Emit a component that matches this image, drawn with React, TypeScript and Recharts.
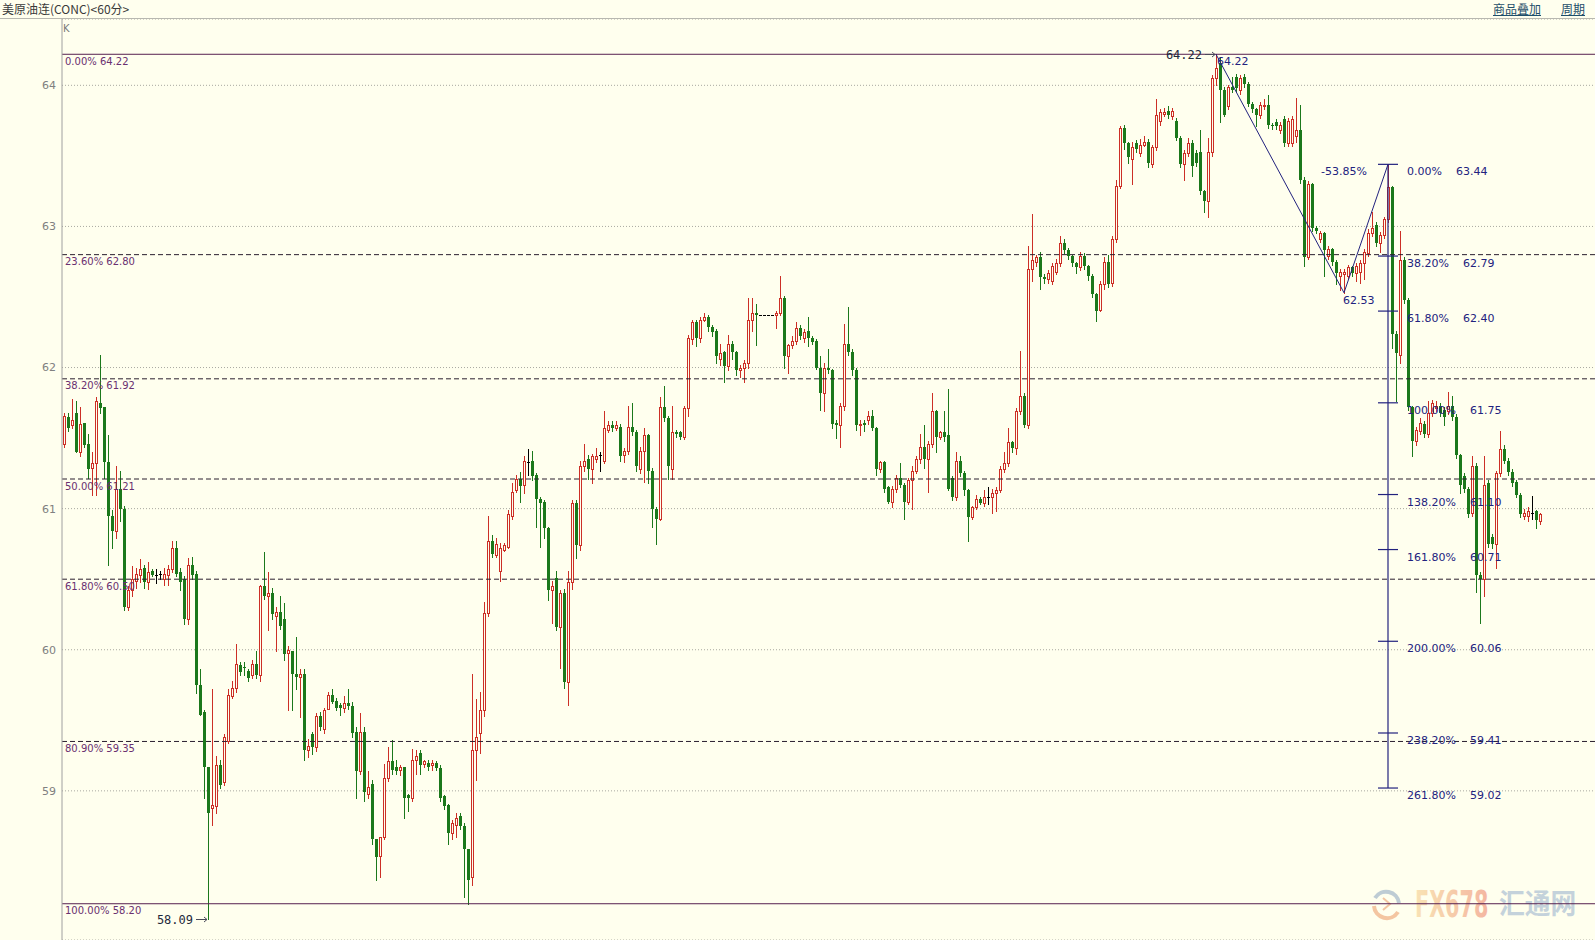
import React from 'react';
import { ComposedChart, Bar, XAxis, YAxis, CartesianGrid, ReferenceLine, ReferenceDot } from 'recharts';

// ---------- data (hourly candles) ----------
const opens = [
  61.46, 61.65, 61.59, 61.68, 61.40, 61.61, 61.46, 61.29, 61.32, 61.75,
  61.72, 61.33, 60.95, 60.84, 61.14, 61.00, 60.30, 60.42, 60.49, 60.53,
  60.58, 60.48, 60.56, 60.53, 60.54, 60.50, 60.53, 60.57, 60.72, 60.55,
  60.50, 60.22, 60.60, 60.54, 59.75, 59.56, 59.17, 58.88, 58.89, 59.18,
  59.06, 59.35, 59.67, 59.73, 59.89, 59.88, 59.85, 59.82, 59.90, 59.82,
  60.45, 60.38, 60.40, 60.24, 60.27, 60.22, 59.98, 59.99, 59.83, 59.81,
  59.83, 59.29, 59.40, 59.31, 59.53, 59.44, 59.58, 59.68, 59.64, 59.61,
  59.59, 59.62, 59.60, 59.42, 59.14, 59.42, 58.98, 59.05, 58.66, 58.54,
  58.67, 59.09, 59.21, 59.17, 59.15, 59.17, 58.97, 58.95, 59.22, 59.27,
  59.19, 59.20, 59.18, 59.20, 59.16, 58.96, 58.90, 58.70, 58.76, 58.82,
  58.75, 58.59, 58.39, 59.29, 59.41, 59.57, 60.26, 60.77, 60.67, 60.56,
  60.71, 60.73, 60.95, 61.13, 61.21, 61.17, 61.33, 61.34, 61.24, 61.07,
  61.05, 60.86, 60.42, 60.51, 60.16, 60.40, 59.77, 60.48, 61.04, 60.74,
  61.30, 61.35, 61.28, 61.35, 61.38, 61.34, 61.56, 61.59, 61.57, 61.58,
  61.38, 61.41, 61.58, 61.54, 61.28, 61.41, 61.52, 61.27, 61.00, 60.93,
  61.72, 61.64, 61.28, 61.54, 61.54, 61.51, 61.71, 62.20, 62.32, 62.21,
  62.34, 62.36, 62.29, 62.26, 62.06, 62.11, 62.01, 62.17, 62.11, 61.98,
  62.00, 62.03, 62.34, 62.39, 62.37, 62.37, 62.37, 62.37, 62.37, 62.39,
  62.49, 62.08, 62.16, 62.19, 62.28, 62.21, 62.26, 62.21, 62.19, 62.00,
  61.82, 62.00, 61.98, 61.61, 61.59, 61.73, 62.17, 62.11, 61.98, 61.59,
  61.61, 61.63, 61.66, 61.57, 61.28, 61.33, 61.15, 61.05, 61.14, 61.22,
  61.17, 61.05, 61.20, 61.27, 61.35, 61.44, 61.35, 61.46, 61.69, 61.51,
  61.54, 61.52, 61.22, 61.08, 61.34, 61.25, 61.13, 60.94, 61.01, 61.07,
  61.04, 61.08, 61.08, 61.11, 61.13, 61.28, 61.32, 61.47, 61.43, 61.69,
  61.80, 61.59, 62.70, 62.75, 62.78, 62.64, 62.63, 62.61, 62.68, 62.74,
  62.88, 62.83, 62.79, 62.74, 62.71, 62.79, 62.72, 62.65, 62.52, 62.41,
  62.59, 62.75, 62.60, 62.91, 63.29, 63.70, 63.59, 63.48, 63.59, 63.52,
  63.58, 63.60, 63.44, 63.56, 63.75, 63.80, 63.82, 63.78, 63.75, 63.63,
  63.44, 63.52, 63.59, 63.52, 63.53, 63.25, 63.18, 63.53, 64.05, 64.16,
  63.97, 63.85, 63.99, 64.06, 63.97, 64.06, 64.01, 63.87, 63.83, 63.79,
  63.85, 63.86, 63.72, 63.74, 63.68, 63.76, 63.59, 63.59, 63.64, 63.68,
  63.33, 62.78, 63.30, 62.99, 62.91, 62.95, 62.79, 62.84, 62.75, 62.65,
  62.66, 62.65, 62.71, 62.67, 62.68, 62.74, 62.81, 62.95, 63.01, 62.88,
  62.94, 63.05, 63.28, 62.24, 62.09, 62.76, 62.48, 61.72, 61.48, 61.55,
  61.60, 61.53, 61.68, 61.71, 61.73, 61.70, 61.69, 61.73, 61.65, 61.38,
  61.23, 61.14, 60.97, 61.30, 60.53, 60.50, 61.18, 60.80, 60.75, 61.25,
  61.42, 61.34, 61.26, 61.19, 61.10, 60.95, 60.95, 60.97, 60.98, 60.91,
];
const highs = [
  61.68, 61.68, 61.78, 61.76, 61.72, 61.61, 61.53, 61.40, 61.79, 62.09,
  61.72, 61.52, 60.99, 61.30, 61.27, 61.02, 60.45, 60.59, 60.58, 60.64,
  60.60, 60.62, 60.57, 60.57, 60.56, 60.58, 60.60, 60.77, 60.77, 60.58,
  60.52, 60.65, 60.66, 60.56, 59.86, 59.57, 59.17, 59.72, 59.25, 59.22,
  59.40, 59.72, 59.78, 60.04, 59.91, 59.91, 59.86, 59.93, 59.99, 60.46,
  60.69, 60.55, 60.44, 60.30, 60.38, 60.33, 60.03, 59.99, 60.09, 59.86,
  59.86, 59.37, 59.42, 59.55, 59.56, 59.59, 59.70, 59.72, 59.66, 59.62,
  59.67, 59.72, 59.63, 59.45, 59.55, 59.45, 59.14, 59.08, 58.66, 58.67,
  59.19, 59.31, 59.36, 59.22, 59.18, 59.17, 58.98, 59.30, 59.29, 59.29,
  59.22, 59.22, 59.22, 59.21, 59.18, 58.97, 58.91, 58.79, 58.84, 58.84,
  58.77, 58.59, 59.83, 59.65, 59.70, 60.34, 60.95, 60.81, 60.79, 60.76,
  60.76, 60.99, 61.18, 61.24, 61.26, 61.37, 61.42, 61.41, 61.25, 61.08,
  61.06, 60.87, 60.49, 60.56, 60.42, 60.43, 60.56, 61.06, 61.06, 61.34,
  61.46, 61.38, 61.39, 61.43, 61.40, 61.69, 61.62, 61.62, 61.62, 61.60,
  61.43, 61.73, 61.75, 61.56, 61.44, 61.57, 61.53, 61.29, 61.01, 61.79,
  61.87, 61.66, 61.73, 61.56, 61.55, 61.73, 62.23, 62.34, 62.34, 62.36,
  62.39, 62.37, 62.30, 62.27, 62.17, 62.12, 62.23, 62.19, 62.12, 62.02,
  62.05, 62.49, 62.49, 62.45, 62.37, 62.37, 62.37, 62.37, 62.40, 62.65,
  62.51, 62.17, 62.22, 62.32, 62.30, 62.27, 62.36, 62.22, 62.20, 62.08,
  62.03, 62.13, 61.99, 61.63, 61.75, 62.31, 62.43, 62.13, 62.00, 61.63,
  61.63, 61.69, 61.70, 61.58, 61.34, 61.34, 61.16, 61.16, 61.24, 61.32,
  61.18, 61.22, 61.30, 61.37, 61.53, 61.59, 61.48, 61.82, 61.70, 61.55,
  61.69, 61.85, 61.23, 61.40, 61.37, 61.27, 61.14, 61.02, 61.10, 61.08,
  61.13, 61.15, 61.14, 61.15, 61.30, 61.40, 61.57, 61.48, 61.71, 62.12,
  61.82, 62.86, 63.09, 62.80, 62.82, 62.66, 62.69, 62.74, 62.77, 62.93,
  62.91, 62.85, 62.80, 62.75, 62.82, 62.81, 62.73, 62.66, 62.53, 62.61,
  62.78, 62.80, 62.93, 63.33, 63.71, 63.72, 63.60, 63.60, 63.61, 63.62,
  63.64, 63.62, 63.58, 63.90, 63.83, 63.84, 63.85, 63.84, 63.77, 63.64,
  63.54, 63.63, 63.61, 63.54, 63.68, 63.26, 63.63, 64.07, 64.22, 64.20,
  63.99, 64.00, 64.06, 64.08, 64.07, 64.08, 64.02, 63.88, 63.84, 63.88,
  63.90, 63.93, 63.73, 63.76, 63.74, 63.78, 63.77, 63.78, 63.91, 63.86,
  63.35, 63.32, 63.31, 63.00, 62.97, 62.96, 62.86, 62.85, 62.76, 62.70,
  62.70, 62.73, 62.72, 62.74, 62.76, 62.84, 62.98, 63.10, 63.03, 62.96,
  63.07, 63.44, 63.29, 62.26, 62.97, 62.78, 62.49, 61.73, 61.58, 61.64,
  61.62, 61.76, 61.77, 61.76, 61.75, 61.72, 61.83, 61.80, 61.67, 61.39,
  61.25, 61.15, 61.37, 61.32, 60.55, 61.37, 61.20, 60.82, 61.27, 61.55,
  61.45, 61.36, 61.28, 61.20, 61.11, 61.00, 61.01, 61.09, 60.99, 60.97,
];
const lows = [
  61.44, 61.55, 61.57, 61.40, 61.37, 61.44, 61.22, 61.10, 61.10, 61.68,
  61.22, 60.60, 60.72, 60.79, 60.91, 60.28, 60.28, 60.38, 60.44, 60.48,
  60.44, 60.43, 60.52, 60.47, 60.50, 60.46, 60.46, 60.55, 60.52, 60.42,
  60.18, 60.18, 60.50, 59.69, 59.54, 58.95, 58.09, 58.76, 58.84, 59.02,
  59.04, 59.34, 59.66, 59.70, 59.82, 59.82, 59.78, 59.80, 59.80, 59.78,
  60.36, 60.14, 60.22, 59.99, 60.15, 59.93, 59.57, 59.57, 59.72, 59.52,
  59.22, 59.24, 59.26, 59.28, 59.43, 59.41, 59.58, 59.62, 59.57, 59.54,
  59.56, 59.58, 59.38, 58.95, 59.12, 58.93, 58.95, 58.62, 58.37, 58.39,
  58.66, 59.07, 59.12, 59.12, 59.11, 58.81, 58.86, 58.93, 59.12, 59.12,
  59.17, 59.15, 59.15, 59.15, 58.93, 58.87, 58.62, 58.66, 58.67, 58.73,
  58.25, 58.20, 58.33, 59.08, 59.27, 59.53, 60.24, 60.66, 60.66, 60.49,
  60.70, 60.72, 60.93, 61.12, 61.05, 61.11, 61.24, 61.20, 60.87, 60.73,
  60.79, 60.35, 60.19, 60.14, 59.87, 59.73, 59.61, 60.43, 60.65, 60.71,
  61.27, 61.21, 61.18, 61.33, 61.27, 61.32, 61.54, 61.55, 61.56, 61.34,
  61.33, 61.39, 61.52, 61.27, 61.25, 61.19, 61.18, 60.87, 60.75, 60.92,
  61.62, 61.21, 61.21, 61.51, 61.49, 61.49, 61.66, 62.17, 62.15, 62.18,
  62.33, 62.26, 62.22, 62.03, 62.02, 61.90, 61.98, 62.06, 61.95, 61.93,
  61.90, 62.00, 62.26, 62.16, 62.37, 62.37, 62.37, 62.37, 62.28, 62.37,
  62.00, 61.96, 62.14, 62.17, 62.20, 62.18, 62.15, 62.17, 61.99, 61.70,
  61.69, 61.96, 61.57, 61.50, 61.44, 61.70, 62.09, 61.95, 61.56, 61.52,
  61.55, 61.60, 61.56, 61.24, 61.26, 61.12, 61.04, 61.01, 61.12, 61.15,
  60.93, 61.03, 61.00, 61.25, 61.32, 61.29, 61.12, 61.44, 61.40, 61.49,
  61.48, 61.13, 61.06, 61.06, 61.23, 61.10, 60.77, 60.93, 61.00, 61.03,
  61.02, 61.03, 60.97, 60.98, 61.12, 61.26, 61.30, 61.40, 61.39, 61.67,
  61.58, 61.57, 62.61, 62.72, 62.56, 62.60, 62.60, 62.59, 62.66, 62.72,
  62.81, 62.77, 62.72, 62.67, 62.69, 62.70, 62.62, 62.50, 62.33, 62.40,
  62.56, 62.57, 62.58, 62.89, 63.27, 63.55, 63.45, 63.30, 63.53, 63.50,
  63.57, 63.42, 63.42, 63.54, 63.72, 63.78, 63.77, 63.76, 63.61, 63.42,
  63.33, 63.50, 63.36, 63.43, 63.23, 63.10, 63.07, 63.50, 64.00, 63.74,
  63.78, 63.83, 63.95, 63.96, 63.94, 63.99, 63.85, 63.81, 63.71, 63.77,
  63.83, 63.70, 63.69, 63.69, 63.66, 63.57, 63.57, 63.57, 63.60, 63.31,
  62.72, 62.77, 62.97, 62.95, 62.89, 62.65, 62.77, 62.73, 62.59, 62.55,
  62.53, 62.63, 62.65, 62.61, 62.60, 62.63, 62.79, 62.93, 62.86, 62.82,
  62.92, 63.03, 62.14, 61.76, 62.03, 62.46, 61.70, 61.37, 61.45, 61.53,
  61.51, 61.51, 61.66, 61.69, 61.66, 61.59, 61.67, 61.63, 61.36, 61.11,
  61.12, 60.94, 60.95, 60.41, 60.19, 60.38, 60.73, 60.72, 60.58, 61.23,
  61.32, 61.24, 61.16, 61.08, 60.94, 60.93, 60.91, 60.93, 60.86, 60.89,
];
const closes = [
  61.66, 61.57, 61.63, 61.40, 61.60, 61.45, 61.28, 61.32, 61.76, 61.71,
  61.33, 60.95, 60.84, 61.14, 61.00, 60.30, 60.42, 60.50, 60.54, 60.57,
  60.48, 60.55, 60.53, 60.53, 60.54, 60.54, 60.57, 60.72, 60.54, 60.48,
  60.22, 60.60, 60.53, 59.75, 59.54, 59.17, 58.84, 58.90, 59.18, 59.04,
  59.38, 59.68, 59.73, 59.90, 59.84, 59.87, 59.80, 59.90, 59.82, 60.45,
  60.38, 60.40, 60.25, 60.27, 60.17, 59.97, 60.00, 59.83, 59.81, 59.83,
  59.29, 59.32, 59.31, 59.53, 59.45, 59.57, 59.68, 59.63, 59.59, 59.59,
  59.62, 59.60, 59.41, 59.14, 59.42, 58.99, 59.03, 58.66, 58.53, 58.67,
  59.09, 59.21, 59.15, 59.14, 59.17, 58.95, 58.95, 59.22, 59.25, 59.18,
  59.21, 59.17, 59.20, 59.16, 58.95, 58.89, 58.70, 58.77, 58.81, 58.75,
  58.59, 58.37, 59.29, 59.38, 59.57, 60.26, 60.77, 60.68, 60.75, 60.72,
  60.74, 60.96, 61.12, 61.21, 61.16, 61.34, 61.33, 61.23, 61.07, 61.04,
  60.86, 60.42, 60.45, 60.16, 60.40, 59.77, 60.48, 61.04, 60.74, 61.30,
  61.34, 61.28, 61.37, 61.37, 61.38, 61.57, 61.59, 61.57, 61.59, 61.37,
  61.41, 61.58, 61.54, 61.30, 61.41, 61.52, 61.27, 61.00, 60.93, 61.72,
  61.64, 61.30, 61.54, 61.53, 61.51, 61.71, 62.21, 62.32, 62.21, 62.34,
  62.36, 62.29, 62.25, 62.08, 62.10, 62.01, 62.17, 62.11, 61.98, 62.00,
  62.03, 62.34, 62.39, 62.37, 62.37, 62.37, 62.37, 62.37, 62.39, 62.49,
  62.08, 62.16, 62.19, 62.28, 62.22, 62.25, 62.21, 62.18, 62.00, 61.82,
  62.00, 61.98, 61.60, 61.59, 61.73, 62.17, 62.11, 61.98, 61.59, 61.60,
  61.59, 61.66, 61.57, 61.28, 61.33, 61.14, 61.05, 61.14, 61.22, 61.17,
  61.05, 61.20, 61.27, 61.35, 61.44, 61.35, 61.46, 61.69, 61.51, 61.54,
  61.51, 61.14, 61.08, 61.34, 61.25, 61.13, 60.94, 61.01, 61.07, 61.04,
  61.08, 61.08, 61.11, 61.13, 61.28, 61.32, 61.47, 61.43, 61.69, 61.80,
  61.59, 62.70, 62.76, 62.78, 62.64, 62.63, 62.67, 62.72, 62.74, 62.88,
  62.83, 62.79, 62.74, 62.71, 62.79, 62.72, 62.65, 62.52, 62.40, 62.59,
  62.75, 62.59, 62.91, 63.29, 63.70, 63.59, 63.49, 63.56, 63.55, 63.58,
  63.60, 63.45, 63.56, 63.79, 63.81, 63.81, 63.79, 63.82, 63.63, 63.44,
  63.52, 63.59, 63.43, 63.45, 63.25, 63.18, 63.53, 64.05, 64.12, 63.97,
  63.79, 63.99, 63.97, 63.98, 64.05, 64.01, 63.87, 63.83, 63.79, 63.86,
  63.86, 63.72, 63.71, 63.71, 63.72, 63.59, 63.75, 63.76, 63.68, 63.33,
  62.78, 63.30, 62.99, 62.97, 62.95, 62.83, 62.84, 62.75, 62.67, 62.68,
  62.68, 62.71, 62.67, 62.72, 62.74, 62.82, 62.95, 62.99, 62.88, 62.94,
  63.05, 63.28, 62.24, 62.10, 62.76, 62.48, 61.72, 61.48, 61.56, 61.61,
  61.53, 61.68, 61.75, 61.73, 61.68, 61.65, 61.73, 61.65, 61.38, 61.17,
  61.14, 60.96, 61.30, 60.53, 60.50, 61.17, 60.75, 60.75, 61.25, 61.42,
  61.34, 61.26, 61.18, 61.10, 60.96, 60.97, 60.98, 60.97, 60.92, 60.96,
];

const yTicks = [59, 60, 61, 62, 63, 64];

// left Fibonacci retracement (64.22 -> 58.20)
const fibPct = ['0.00%', '23.60%', '38.20%', '50.00%', '61.80%', '80.90%', '100.00%'];
const fibValues = [64.22, 62.80, 61.92, 61.21, 60.50, 59.35, 58.20];
const fibSolid = [true, false, false, false, false, false, true];

// right Fibonacci extension tool
const extPct = ['0.00%', '38.20%', '61.80%', '100.00%', '138.20%', '161.80%', '200.00%', '238.20%', '261.80%'];
const extValues = [63.44, 62.79, 62.40, 61.75, 61.10, 60.71, 60.06, 59.41, 59.02];
const extIndex = 331;

// zig-zag swing points
const swingIdx = [288, 320, 331];
const swingPrice = [64.22, 62.53, 63.44];
const swingPctLabel = '-53.85%';

// extreme marks
const highMark = { idx: 288, price: 64.22 };
const lowMark = { idx: 36, price: 58.09 };

// ---------- styling ----------
const BG = '#FFFFEE';
const UP = '#CC2F26';
const DOWN = '#1B781B';
const NAVY = '#22227E';
const PURPLE_LINE = '#56204F';
const PURPLE_TXT = '#6A3070';
const DASH_LINE = '#2A1F2E';

const data = opens.map((o, i) => ({
  i,
  o,
  h: highs[i],
  l: lows[i],
  c: closes[i],
  range: [lows[i], highs[i]],
}));

function Candle(props: any) {
  const { x, y, width, height, payload } = props;
  if (!payload || x == null || y == null) return null;
  const { o, h, l, c } = payload;
  const cx = Math.round(x + width / 2);
  const span = h - l;
  const k = span > 0 ? height / span : 0;
  const py = (v: number) => y + (h - v) * k;
  const yH = Math.round(y);
  const yL = Math.round(y + height);
  const wx = cx + 0.5;
  if (o === c) {
    const yy = Math.round(py(o)) + 0.5;
    return (
      <g>
        {span > 0 && <line x1={wx} x2={wx} y1={yH} y2={yL + 1} stroke="#000" />}
        <line x1={cx - 1} x2={cx + 2} y1={yy} y2={yy} stroke="#000" />
      </g>
    );
  }
  if (c > o) {
    const top = Math.round(py(c));
    const bot = Math.round(py(o));
    return (
      <g>
        {top > yH && <line x1={wx} x2={wx} y1={yH} y2={top} stroke={UP} />}
        {yL > bot && <line x1={wx} x2={wx} y1={bot + 1} y2={yL + 1} stroke={UP} />}
        <rect x={cx - 0.5} y={top + 0.5} width={2} height={Math.max(bot - top, 1)} fill={BG} stroke={UP} />
      </g>
    );
  }
  const top = Math.round(py(o));
  const bot = Math.round(py(c));
  return (
    <g>
      <line x1={wx} x2={wx} y1={yH} y2={yL + 1} stroke={DOWN} />
      <rect x={cx - 1} y={top} width={3} height={Math.max(bot - top, 1)} fill={DOWN} />
    </g>
  );
}

function LeftFibLabel(props: any) {
  const { viewBox, txt } = props;
  if (!viewBox) return null;
  return (
    <text x={viewBox.x + 3} y={viewBox.y + 10.5} fill={PURPLE_TXT} fontSize={10} fontFamily="DejaVu Sans">
      {txt}
    </text>
  );
}

function ExtLabel(props: any) {
  const { viewBox, pct, val } = props;
  if (!viewBox) return null;
  const cx = viewBox.x + viewBox.width / 2;
  const cy = viewBox.y + viewBox.height / 2;
  return (
    <g fill={NAVY} fontSize={11} fontFamily="DejaVu Sans">
      <text x={cx + 19} y={cy + 11}>{pct}</text>
      <text x={cx + 33 + 7 * pct.length} y={cy + 11}>{val}</text>
    </g>
  );
}

function PointText(props: any) {
  const { viewBox, txt, tx = 0, ty = 0, anchor = 'start' } = props;
  if (!viewBox) return null;
  const cx = viewBox.x + viewBox.width / 2;
  const cy = viewBox.y + viewBox.height / 2;
  return (
    <text x={cx + tx} y={cy + ty} textAnchor={anchor} fill={NAVY} fontSize={11} fontFamily="DejaVu Sans">
      {txt}
    </text>
  );
}

function ArrowLabel(props: any) {
  const { viewBox, txt, gap } = props;
  if (!viewBox) return null;
  const cx = viewBox.x + viewBox.width / 2;
  const cy = Math.round(viewBox.y + viewBox.height / 2) + 0.5;
  return (
    <g>
      <text x={cx - gap} y={cy + 4.5} textAnchor="end" fill="#1E2A3C" fontSize={12} fontFamily="DejaVu Sans Mono">
        {txt}
      </text>
      <line x1={cx - gap + 3} x2={cx - 1} y1={cy} y2={cy} stroke="#4A4A5A" />
      <path d={`M${cx - 4},${cy - 2.5} L${cx - 1},${cy} L${cx - 4},${cy + 2.5}`} fill="none" stroke="#4A4A5A" />
    </g>
  );
}

export default function App() {
  const zig = swingIdx.slice(0, -1).map((s, k) => [
    { x: s, y: swingPrice[k] },
    { x: swingIdx[k + 1], y: swingPrice[k + 1] },
  ]);
  return (
    <div style={{ position: 'relative', width: 1595, height: 940, background: BG, overflow: 'hidden' }}>
      <style>{'body{margin:0;padding:0;background:' + BG + ';}'}</style>

      {/* watermark (beneath the chart) */}
      <svg width={1595} height={940} style={{ position: 'absolute', left: 0, top: 0 }}>
        <defs>
          <linearGradient id="wmg" x1="0" x2="1" y1="0" y2="0">
            <stop offset="0" stopColor="#F8DCA6" />
            <stop offset="1" stopColor="#F2A58E" />
          </linearGradient>
        </defs>
        <g opacity={0.8}>
          <path d="M1374,906 A13,13 0 0 0 1398,912" fill="none" stroke="#F2B98F" strokeWidth={4} />
          <path d="M1375,898 A13,13 0 0 1 1399,903" fill="none" stroke="#AFC0CE" strokeWidth={4} />
          <path d="M1383,898 L1390,904 L1383,910" fill="none" stroke="#F2B98F" strokeWidth={2} />
          <g transform="translate(1415,917) scale(0.56,1)">
            <text x={0} y={0} fontSize={37} fontWeight="bold" fontFamily="DejaVu Sans" fill="url(#wmg)">
              FX678
            </text>
          </g>
          <g transform="translate(1499,914) scale(0.92,1)">
            <text x={0} y={0} fontSize={28} fontWeight="bold" fontFamily="Noto Sans CJK SC" fill="#B6C8D7">
              汇通网
            </text>
          </g>
        </g>
      </svg>

      {/* header */}
      <svg width={1595} height={40} style={{ position: 'absolute', left: 0, top: 0 }}>
        <text x={2} y={14} fontSize={12} fontFamily="Noto Sans CJK SC" fill="#3A3A3A">
          美原油连(CONC)&lt;60分&gt;
        </text>
        <text x={1493} y={14} fontSize={12} fontFamily="Noto Sans CJK SC" fill="#1E4E6A">商品叠加</text>
        <line x1={1493} x2={1541} y1={15.5} y2={15.5} stroke="#1E4E6A" />
        <text x={1561} y={14} fontSize={12} fontFamily="Noto Sans CJK SC" fill="#1E4E6A">周期</text>
        <line x1={1561} x2={1585} y1={15.5} y2={15.5} stroke="#1E4E6A" />
        <line x1={0} x2={1595} y1={18.5} y2={18.5} stroke="#B8B8B0" />
        <text x={63} y={32} fontSize={10} fontFamily="DejaVu Sans" fill="#7A7A7A">K</text>
      </svg>

      <div style={{ position: 'absolute', left: 0, top: 19 }}>
        <ComposedChart width={1595} height={921} data={data} margin={{ top: 0, right: 0, bottom: 0, left: 0 }}>
          <CartesianGrid vertical={false} stroke="#A9A9A0" strokeDasharray="1 2" />
          <XAxis type="number" dataKey="i" domain={[-0.5, 382.75]} hide allowDataOverflow />
          <YAxis
            type="number"
            domain={[57.943, 64.47]}
            allowDataOverflow
            ticks={yTicks}
            interval={0}
            width={62}
            tickLine={false}
            tickMargin={0}
            axisLine={{ stroke: '#A0A0A0' }}
            tick={{ fill: '#808080', fontSize: 11, fontFamily: 'DejaVu Sans' }}
          />
          {fibValues.map((v, k) => (
            <ReferenceLine
              key={'fib' + k}
              y={v}
              stroke={fibSolid[k] ? PURPLE_LINE : DASH_LINE}
              strokeDasharray={fibSolid[k] ? undefined : '5 3'}
              label={<LeftFibLabel txt={fibPct[k] + ' ' + v.toFixed(2)} />}
            />
          ))}
          <Bar dataKey="range" barSize={3} shape={Candle} isAnimationActive={false} />
          {zig.map((seg, k) => (
            <ReferenceLine key={'zig' + k} segment={seg} stroke={NAVY} strokeWidth={1} />
          ))}
          <ReferenceLine
            segment={[
              { x: extIndex, y: extValues[0] },
              { x: extIndex, y: extValues[extValues.length - 1] },
            ]}
            stroke={NAVY}
            strokeWidth={1.2}
          />
          {extValues.map((v, k) => (
            <ReferenceLine
              key={'ext' + k}
              segment={[
                { x: extIndex - 2.5, y: v },
                { x: extIndex + 2.5, y: v },
              ]}
              stroke={NAVY}
              strokeWidth={1.2}
              label={<ExtLabel pct={extPct[k]} val={v.toFixed(2)} />}
            />
          ))}
          <ReferenceDot x={swingIdx[1]} y={swingPrice[2]} r={0.5} fill="none" stroke="none"
            label={<PointText txt={swingPctLabel} tx={0} ty={11} anchor="middle" />} />
          <ReferenceDot x={swingIdx[1]} y={swingPrice[1]} r={0.5} fill="none" stroke="none"
            label={<PointText txt={swingPrice[1].toFixed(2)} tx={-1} ty={11} />} />
          <ReferenceDot x={swingIdx[0]} y={swingPrice[0]} r={0.5} fill="none" stroke="none"
            label={<PointText txt={swingPrice[0].toFixed(2)} tx={1} ty={11} />} />
          <ReferenceDot x={highMark.idx} y={highMark.price} r={0.5} fill="none" stroke="none"
            label={<ArrowLabel txt={highMark.price.toFixed(2)} gap={14} />} />
          <ReferenceDot x={lowMark.idx} y={lowMark.price} r={0.5} fill="none" stroke="none"
            label={<ArrowLabel txt={lowMark.price.toFixed(2)} gap={15} />} />
        </ComposedChart>
      </div>
    </div>
  );
}
